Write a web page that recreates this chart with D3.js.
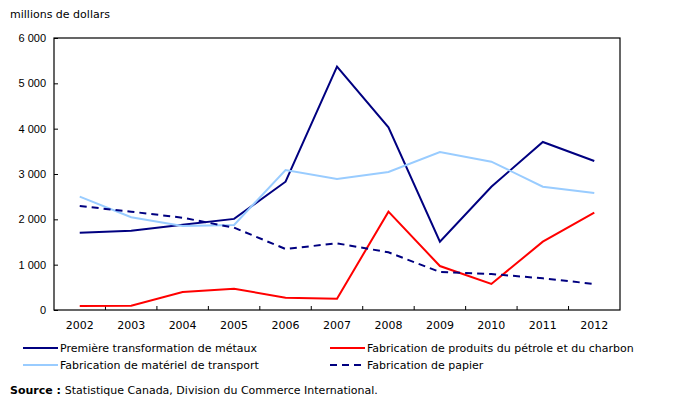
<!DOCTYPE html>
<html>
<head>
<meta charset="utf-8">
<script src="https://cdn.jsdelivr.net/npm/d3@7"></script>
<style>
  body { margin: 0; background: #fff; }
  svg { display: block; font-family: "DejaVu Sans", Verdana, sans-serif; }
</style>
</head>
<body>
<div id="chart"></div>
<script>
// Data (millions de dollars)
const years = ["2002", "2003", "2004", "2005", "2006", "2007", "2008", "2009", "2010", "2011", "2012"];
const metaux = [1706, 1750, 1880, 2010, 2830, 5367, 4030, 1507, 2720, 3706, 3287];
const petrole = [90, 92, 397, 470, 272, 250, 2169, 970, 574, 1507, 2147];
const transport = [2500, 2045, 1853, 1875, 3088, 2890, 3044, 3485, 3272, 2720, 2581];
const papier = [2294, 2169, 2036, 1816, 1346, 1471, 1272, 838, 794, 699, 574];
const yTicks = [0, 1000, 2000, 3000, 4000, 5000, 6000];

const series = [
  { name: "Première transformation de métaux", values: metaux, color: "#000080", dash: null },
  { name: "Fabrication de produits du pétrole et du charbon", values: petrole, color: "#ff0000", dash: null },
  { name: "Fabrication de matériel de transport", values: transport, color: "#99ccff", dash: null },
  { name: "Fabrication de papier", values: papier, color: "#000080", dash: "7,5" }
];

const W = 679, H = 406;
const margin = { top: 38, right: 59, bottom: 96, left: 54 };
const width = W - margin.left - margin.right;
const height = H - margin.top - margin.bottom;
const fs = "11px";

const svg = d3.select("#chart").append("svg")
  .attr("width", W)
  .attr("height", H);

const g = svg.append("g")
  .attr("transform", `translate(${margin.left}, ${margin.top})`);

// Scales
const x = d3.scaleBand().domain(years).range([0, width]);
const y = d3.scaleLinear().domain([0, 6000]).range([height, 0]);

const fmt = d => d3.format(",")(d).replace(",", " ");

// Y axis (ticks pointing inward)
const yAxis = g.append("g")
  .call(d3.axisLeft(y).tickValues(yTicks).tickSize(-4).tickPadding(8).tickFormat(fmt));
yAxis.select(".domain").remove();
yAxis.selectAll("line").attr("stroke", "#000");
yAxis.selectAll("text").style("font-size", fs).attr("fill", "#000");

// X axis: ticks at band boundaries, inward
const boundaries = years.slice(1).map(d => x(d));
g.append("g")
  .selectAll("line")
  .data(boundaries)
  .join("line")
  .attr("x1", d => d).attr("x2", d => d)
  .attr("y1", height).attr("y2", height - 4)
  .attr("stroke", "#000");

g.append("g")
  .selectAll("text")
  .data(years)
  .join("text")
  .attr("x", d => x(d) + x.bandwidth() / 2)
  .attr("y", height + 19)
  .attr("text-anchor", "middle")
  .style("font-size", fs)
  .text(d => d);

// Frame
g.append("rect")
  .attr("width", width)
  .attr("height", height)
  .attr("fill", "none")
  .attr("stroke", "#000")
  .attr("stroke-width", 1.2);

// Lines
const line = d3.line()
  .x((d, i) => x(years[i]) + x.bandwidth() / 2)
  .y(d => y(d));

g.selectAll(".series")
  .data(series)
  .join("path")
  .attr("class", "series")
  .attr("fill", "none")
  .attr("stroke", d => d.color)
  .attr("stroke-width", 2)
  .attr("stroke-dasharray", d => d.dash)
  .attr("d", d => line(d.values));

// Y title
svg.append("text")
  .attr("x", 10)
  .attr("y", 18)
  .style("font-size", fs)
  .text("millions de dollars");

// Legend
const legendPos = [[23, 348], [330, 348], [23, 365], [330, 365]];
const legend = svg.append("g")
  .selectAll("g")
  .data(series)
  .join("g")
  .attr("transform", (d, i) => `translate(${legendPos[i][0]}, ${legendPos[i][1]})`);

legend.append("line")
  .attr("x1", 0).attr("x2", 35)
  .attr("stroke", d => d.color)
  .attr("stroke-width", 2)
  .attr("stroke-dasharray", d => d.dash);

legend.append("text")
  .attr("x", 37)
  .attr("y", 4)
  .style("font-size", fs)
  .text(d => d.name);

// Source
const src = svg.append("text")
  .attr("x", 10)
  .attr("y", 394)
  .style("font-size", fs);
src.append("tspan").attr("font-weight", "bold").text("Source : ");
src.append("tspan").text("Statistique Canada, Division du Commerce International.");
</script>
</body>
</html>
